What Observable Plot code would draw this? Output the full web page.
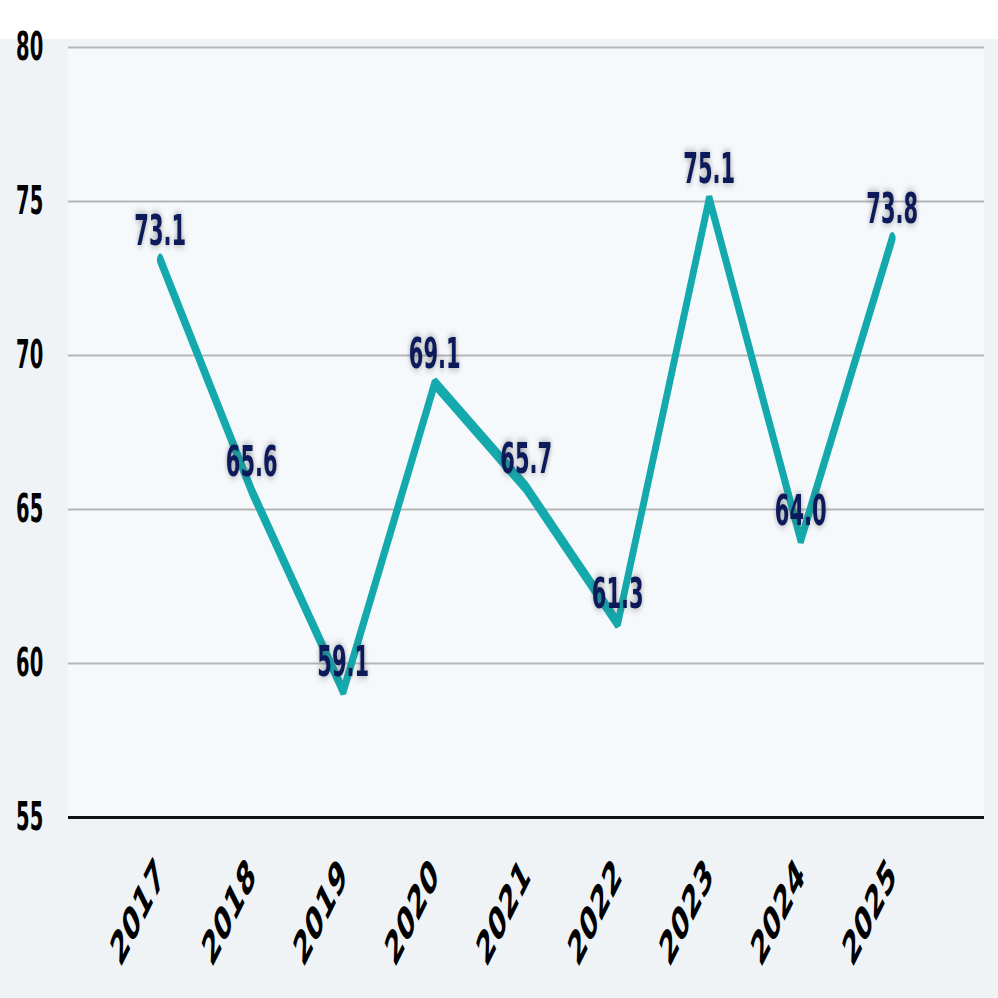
<!DOCTYPE html>
<html>
<head>
<meta charset="utf-8">
<script src="https://cdn.jsdelivr.net/npm/d3@7"></script>
<script src="https://cdn.jsdelivr.net/npm/@observablehq/plot@0.6"></script>
<style>
  html, body { margin: 0; padding: 0; background: #ffffff; }
  #chart { padding-top: 39px; }
  svg { display: block; overflow: visible; }
</style>
</head>
<body>
<div id="chart"></div>
<script>
const years = ["2017", "2018", "2019", "2020", "2021", "2022", "2023", "2024", "2025"];
const values = [73.1, 65.6, 59.1, 69.1, 65.7, 61.3, 75.1, 64.0, 73.8];
const yTicks = [55, 60, 65, 70, 75, 80];
const gridTicks = [60, 65, 70, 75, 80];

const data = years.map((year, i) => ({year, value: values[i]}));

const W = 1996, H = 959;
const font = "DejaVu Sans, sans-serif";

const shadow = (filter) => (index, scales, values, dims, context, next) => {
  const g = next(index, scales, values, dims, context);
  g.style.filter = filter;
  return g;
};

const chart = Plot.plot({
  width: W,
  height: H,
  marginLeft: 136,
  marginRight: 28,
  marginTop: 8,
  marginBottom: 181,
  style: {background: "#eff3f5", fontFamily: font, overflow: "visible"},
  x: {type: "point", domain: years, padding: 1, label: null},
  y: {domain: [55, 80], label: null},
  marks: [
    Plot.frame({fill: "#f6f9fb", stroke: null}),
    Plot.gridY(gridTicks, {stroke: "#b5b5b5", strokeOpacity: 1, strokeWidth: 2}),
    Plot.ruleY([55], {stroke: "#111111", strokeWidth: 3}),
    Plot.line(data, {x: "year", y: "value", stroke: "#14a9ad", strokeWidth: 13, strokeLinejoin: "miter"}),
    Plot.text(data, {
      x: "year", y: "value", text: d => d.value.toFixed(1),
      dy: -15, lineAnchor: "bottom",
      fill: "#0c1a5c", fontSize: 42, fontWeight: "bold",
      render: shadow("drop-shadow(0 0 4px rgba(70,70,70,0.55))")
    }),
    Plot.axisY(yTicks, {
      tickSize: 0, tickPadding: 50, fontSize: 39, fontWeight: "bold",
      fill: "#000000", label: null
    }),
    Plot.axisX({
      tickSize: 0, tickRotate: -45, tickPadding: 50, fontSize: 46, fontWeight: "bold",
      fill: "#000000", label: null
    })
  ]
});

chart.setAttribute("preserveAspectRatio", "none");
chart.setAttribute("viewBox", `0 0 ${W} ${H}`);
chart.style.width = "998px";
chart.style.height = H + "px";
chart.style.maxWidth = "none";
document.getElementById("chart").appendChild(chart);
</script>
</body>
</html>
